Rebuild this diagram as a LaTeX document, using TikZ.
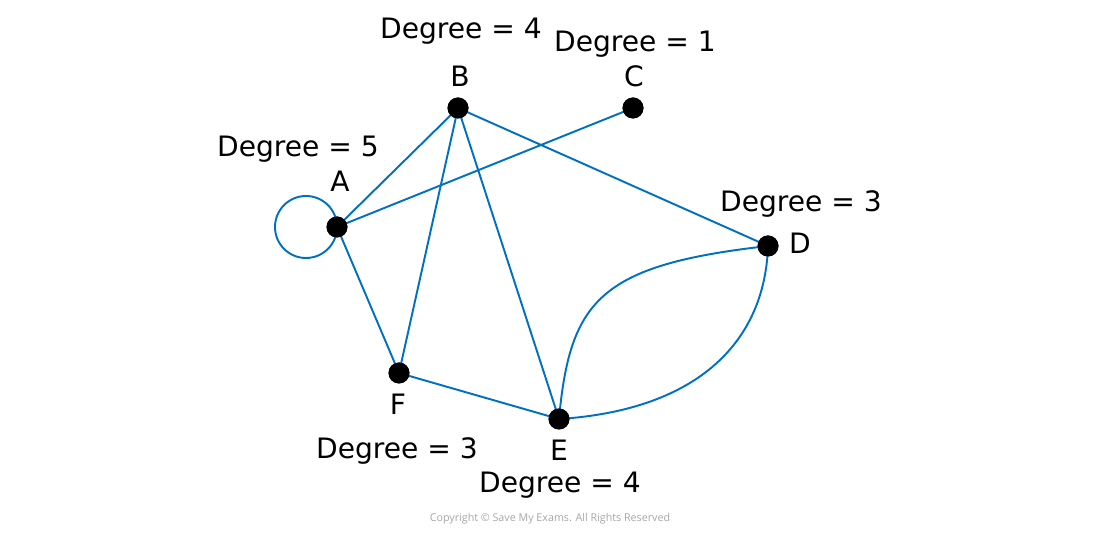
\documentclass[tikz,border=0pt]{standalone}
\usepackage{fontspec}
\setmainfont{DejaVu Sans}
\newfontfamily\copyfont{Open Sans}
\definecolor{edgeblue}{RGB}{0,112,192}

\begin{document}
\begin{tikzpicture}[x=0.02cm, y=-0.02cm,
    vertex/.style={circle, fill=black, inner sep=0pt, minimum size=0.42cm},
    edge/.style={draw=edgeblue, line width=1.1pt},
    lbl/.style={anchor=base, font=\fontsize{16}{18}\selectfont}]
			\useasboundingbox (0,0) rectangle (1100,536);
			
			% Vertices
			\node[vertex] (A) at (337,227) {};
			\node[vertex] (B) at (458,108) {};
			\node[vertex] (C) at (633,108) {};
			\node[vertex] (D) at (768,246) {};
			\node[vertex] (E) at (559,419) {};
			\node[vertex] (F) at (399,373) {};
			
			% Loop at A
			\draw[edge] (A.center) arc (0:360:31);
			
			% Edges
			\draw[edge] (A.center) -- (B.center);
			\draw[edge] (A.center) -- (C.center);
			\draw[edge] (A.center) -- (F.center);
			\draw[edge] (B.center) -- (F.center);
			\draw[edge] (B.center) -- (E.center);
			\draw[edge] (B.center) -- (D.center);
			\draw[edge] (F.center) -- (E.center);
			\draw[edge] (E.center) .. controls (570,300) and (600,265) .. (D.center);
			\draw[edge] (E.center) .. controls (700,410) and (765,340) .. (D.center);
			
			% Redraw vertices on top
			\foreach \v in {A,B,C,D,E,F} {
				\fill[black] (\v) circle (0.21cm);
			}
			
			% Vertex letters
			\node[lbl] (labA) at (340,192) {A};
			\node[lbl] (labB) at (460,87) {B};
			\node[lbl] (labC) at (634,87) {C};
			\node[lbl] (labD) at (800,254) {D};
			\node[lbl] (labE) at (559,461) {E};
			\node[lbl] (labF) at (398,415) {F};
			
			% Degrees
			\node[lbl] (degA) at (298,157) {Degree = 5};
			\node[lbl] (degB) at (461,39) {Degree = 4};
			\node[lbl] (degC) at (635,52) {Degree = 1};
			\node[lbl] (degD) at (801,212) {Degree = 3};
			\node[lbl] (degE) at (560,493) {Degree = 4};
			\node[lbl] (degF) at (397,459) {Degree = 3};
			
			% Copyright line
			\node[anchor=base, text=black!35, font=\copyfont\fontsize{6.1}{8}\selectfont] (copy) at (550,522) {Copyright © Save My Exams. All Rights Reserved};
		\end{tikzpicture}
\end{document}
